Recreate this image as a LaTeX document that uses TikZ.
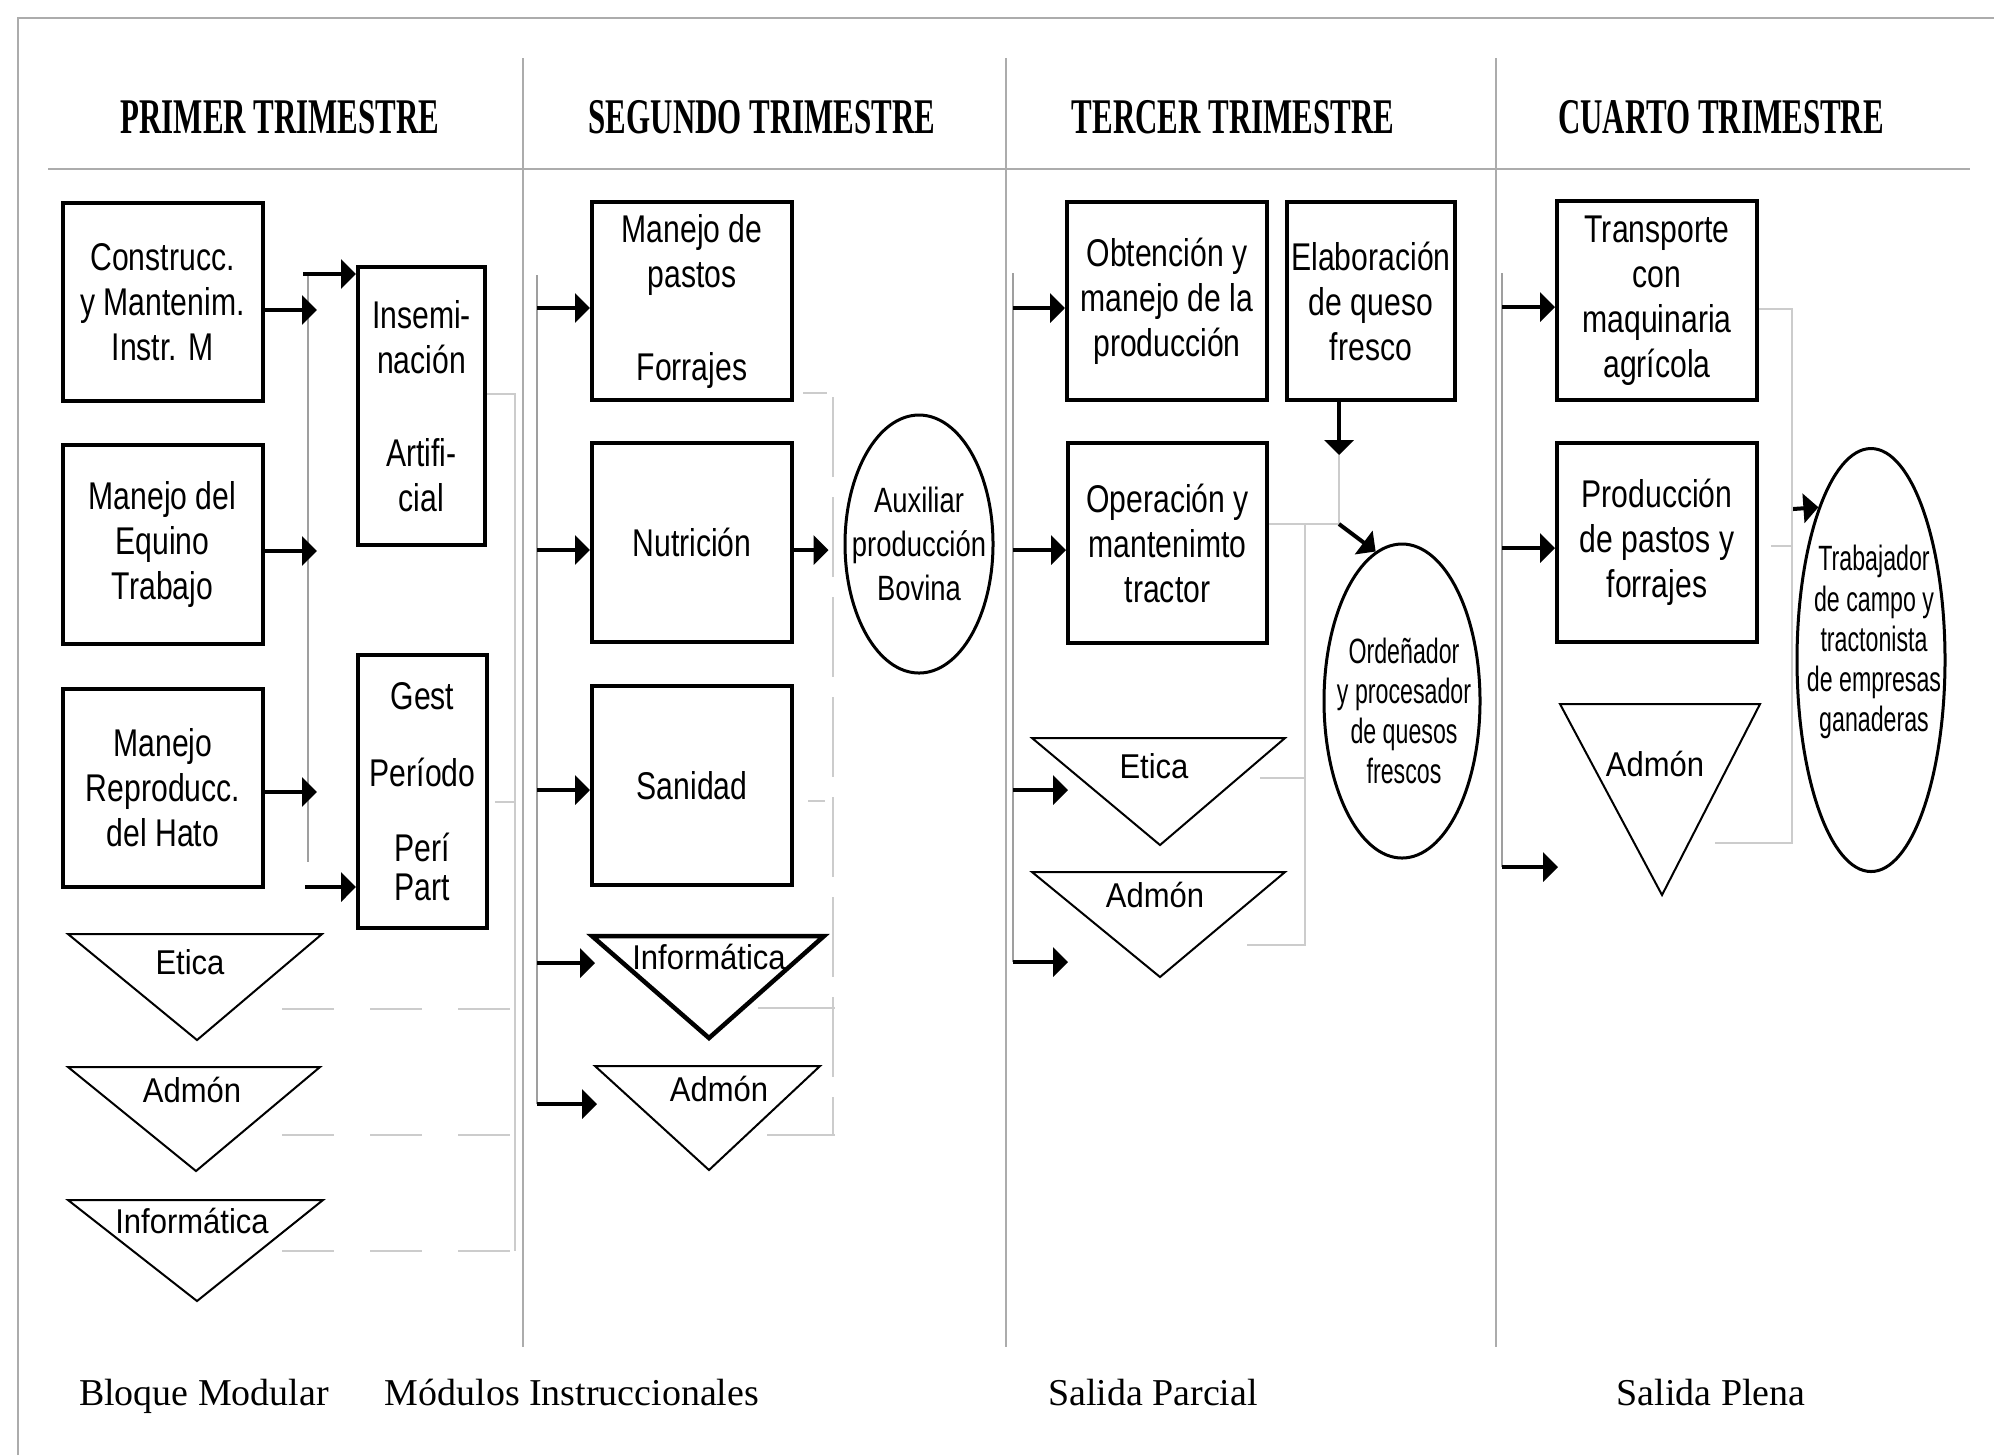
\documentclass[tikz,border=0pt]{standalone}
\usepackage{fontspec}
\setmainfont{Liberation Serif}
\newfontfamily\headfont[FakeStretch=0.62]{Liberation Serif}
\newfontfamily\boxfont[FakeStretch=0.78]{Liberation Sans}
\newfontfamily\trifont[FakeStretch=0.9]{Liberation Sans}
\newfontfamily\ovalfont[FakeStretch=0.66]{Liberation Sans}
\usetikzlibrary{arrows.meta,shapes.geometric}

\newlength{\du}
\setlength{\du}{0.1mm}

\begin{document}
\begin{tikzpicture}[x=1\du,y=-1\du,
  box/.style={draw,line width=0.4mm,inner sep=0pt,align=center,
    font=\boxfont\fontsize{11}{12.8}\selectfont},
  oval/.style={draw,ellipse,line width=0.3mm,inner sep=0pt},
  ovaltext/.style={align=center,inner sep=0pt,font=\ovalfont\fontsize{10}{11.4}\selectfont},
  trilabel/.style={anchor=base,inner sep=0pt,font=\trifont\fontsize{9.8}{11}\selectfont},
  tri/.style={line width=0.2mm,line join=miter},
  arr/.style={line width=0.4mm,-{Triangle[length=1.5mm,width=2.9mm]}},
  feed/.style={line width=0.15mm,gray!75},
  faint/.style={line width=0.15mm,gray!40},
  rule/.style={line width=0.2mm,gray!65},
  head/.style={anchor=base,inner sep=0pt,font=\headfont\bfseries\fontsize{14.2}{16}\selectfont},
  foot/.style={anchor=base,inner sep=0pt,font=\fontsize{10.8}{12}\selectfont}]
\useasboundingbox (0,0) rectangle (1994,1455);

% frame and columns
\draw[rule] (18,1455) -- (18,18) -- (1994,18);
\draw[rule] (48,169) -- (1970,169);
\foreach \x in {523,1006,1496}
  \draw[rule] (\x,58) -- (\x,1347);

\node[head] (h1) at (280,133) {PRIMER TRIMESTRE};
\node[head] (h2) at (762,133) {SEGUNDO TRIMESTRE};
\node[head] (h3) at (1233,133) {TERCER TRIMESTRE};
\node[head] (h4) at (1721,133) {CUARTO TRIMESTRE};

\node[foot] (p1) at (204,1405) {Bloque Modular};
\node[foot] (p2) at (572,1405) {Módulos Instruccionales};
\node[foot] (p3) at (1153,1405) {Salida Parcial};
\node[foot] (p4) at (1711,1405) {Salida Plena};

% first column
\node[box,minimum width=200\du,minimum height=198\du] (cons) at (162.5,302) {Construcc.\\y Mantenim.\\Instr. M};
\node[box,minimum width=200\du,minimum height=199\du] (equi) at (162.5,544.5) {Manejo del\\Equino\\Trabajo};
\node[box,minimum width=200\du,minimum height=198\du] (repr) at (163,788) {Manejo\\Reproducc.\\del Hato};
\node[box,minimum width=127\du,minimum height=278\du] (insem) at (421.5,406) {Insemi-\\nación\\[4.8mm]Artifi-\\cial};
\node[box,minimum width=129\du,minimum height=273\du] (gest) at (422.5,791.5) {Gest\\[3.2mm]Período\\[3mm]Perí\\[-0.6mm]Part};

\coordinate (f1top) at (308,274);
\coordinate (f1bot) at (308,862);
\coordinate (f1in) at (303,274);
\coordinate (f1out) at (305,887);
\coordinate (k1a) at (317,310);
\coordinate (k1b) at (317,551);
\coordinate (k1c) at (317,792);
\draw[feed] (f1top) -- (f1bot);
\draw[arr] (cons.east |- k1a) -- (k1a);
\draw[arr] (equi.east |- k1b) -- (k1b);
\draw[arr] (repr.east |- k1c) -- (k1c);
\draw[arr] (f1in) -- (f1in -| insem.west);
\draw[arr] (f1out) -- (f1out -| gest.west);

\draw[tri] (68,934) -- (322,934) -- (197,1040) -- cycle;
\draw[tri] (68,1067) -- (320,1067) -- (196,1171) -- cycle;
\draw[tri] (68,1200) -- (323,1200) -- (197,1301) -- cycle;
\node[trilabel] (eti1) at (190,974) {Etica};
\node[trilabel] (adm1) at (192,1102) {Admón};
\node[trilabel] (inf1) at (192,1233) {Informática};

\coordinate (g1) at (515,394);
\coordinate (g1b) at (515,1251);
\draw[faint] (insem.east |- g1) -- (g1) -- (g1b);
\draw[faint] (495,802) -- (515,802);
\foreach \y in {1009,1135,1251}
  \draw[faint,dash pattern=on 5.2mm off 3.6mm] (282,\y) -- (515,\y);

% second column
\node[box,minimum width=200\du,minimum height=198\du] (past) at (692,301) {Manejo de\\pastos\\[4.8mm]Forrajes};
\node[box,minimum width=200\du,minimum height=199\du] (nutr) at (692,542.5) {Nutrición};
\node[box,minimum width=200\du,minimum height=199\du] (sani) at (692,785.5) {Sanidad};
\node[oval,minimum width=148\du,minimum height=258\du] (aux) at (919,544) {};
\node[align=center,inner sep=0pt,font=\boxfont\fontsize{10}{12.6}\selectfont] (auxtx) at (aux.center) {Auxiliar\\producción\\Bovina};

\coordinate (c2top) at (537,275);
\coordinate (c2a) at (537,308);
\coordinate (c2b) at (537,550);
\coordinate (c2c) at (537,790);
\coordinate (c2d) at (537,963);
\coordinate (c2e) at (537,1104);
\coordinate (t2a) at (595,963);
\coordinate (t2b) at (597,1104);
\draw[feed] (c2top) -- (c2e);
\draw[arr] (c2a) -- (c2a -| past.west);
\draw[arr] (c2b) -- (c2b -| nutr.west);
\draw[arr] (c2c) -- (c2c -| sani.west);
\draw[arr] (c2d) -- (t2a);
\draw[arr] (c2e) -- (t2b);
\draw[arr,shorten >=1.5mm] (nutr.east |- c2b) -- (aux.west |- c2b);

\draw[tri,line width=0.45mm] (592,936) -- (824,936) -- (709,1038) -- cycle;
\draw[tri] (595,1066) -- (820,1066) -- (709,1170) -- cycle;
\node[trilabel] (inf2) at (709,969) {Informática};
\node[trilabel] (adm2) at (719,1101) {Admón};

\coordinate (g2) at (833,397);
\coordinate (g2b) at (833,1135);
\draw[faint] (803,393) -- (827,393);
\draw[faint,dash pattern=on 8mm off 2mm] (g2) -- (g2b);
\draw[faint] (808,801) -- (825,801);
\draw[faint] (758,1008) -- (835,1008);
\draw[faint] (767,1135) -- (835,1135);

% third column
\node[box,minimum width=200\du,minimum height=198\du] (obte) at (1167,301) {Obtención y\\manejo de la\\producción};
\node[box,minimum width=168\du,minimum height=198\du] (elab) at (1371,301) {Elaboración\\de queso\\fresco};
\node[box,minimum width=199\du,minimum height=200\du] (oper) at (1167.5,543) {Operación y\\mantenimto\\tractor};
\node[oval,minimum width=156\du,minimum height=314\du] (orde) at (1402,701) {};
\node[ovaltext] (ordetx) at (1404,711) {Ordeñador\\y procesador\\de quesos\\frescos};

\coordinate (c3top) at (1013,273);
\coordinate (c3a) at (1013,308);
\coordinate (c3b) at (1013,550);
\coordinate (c3c) at (1013,790);
\coordinate (c3d) at (1013,962);
\coordinate (t3a) at (1068,790);
\coordinate (t3b) at (1068,962);
\draw[feed] (c3top) -- (c3d);
\draw[arr] (c3a) -- (c3a -| obte.west);
\draw[arr] (c3b) -- (c3b -| oper.west);
\draw[arr] (c3c) -- (t3a);
\draw[arr] (c3d) -- (t3b);

\coordinate (e3) at (1339,455);
\coordinate (j3) at (1339,524);
\draw[arr] (e3 |- elab.south) -- (e3);
\draw[faint] (e3) -- (j3) -- (oper.east |- j3);
\draw[arr] (j3) -- (orde.100);

\draw[tri] (1032,738) -- (1285,738) -- (1160,845) -- cycle;
\draw[tri] (1032,872) -- (1285,872) -- (1160,977) -- cycle;
\node[trilabel] (eti3) at (1154,778) {Etica};
\node[trilabel] (adm3) at (1155,907) {Admón};

\draw[faint] (1305,524) -- (1305,945) -- (1247,945);
\draw[faint] (1260,778) -- (1305,778);

% fourth column
\node[box,minimum width=200\du,minimum height=199\du] (tran) at (1657,300.5) {Transporte\\con\\maquinaria\\agrícola};
\node[box,minimum width=200\du,minimum height=199\du] (prod) at (1657,542.5) {Producción\\de pastos y\\forrajes};
\node[oval,minimum width=148\du,minimum height=423\du] (trab) at (1871,660) {};
\node[ovaltext] (trabtx) at (1874,642) {Trabajador\\de campo y\\tractonista\\de empresas\\ganaderas};

\coordinate (c4top) at (1502,273);
\coordinate (c4a) at (1502,307);
\coordinate (c4b) at (1502,548);
\coordinate (c4c) at (1502,867);
\coordinate (t4a) at (1558,867);
\coordinate (t4s) at (1793,509);
\draw[feed] (c4top) -- (c4c);
\draw[arr] (c4a) -- (c4a -| tran.west);
\draw[arr] (c4b) -- (c4b -| prod.west);
\draw[arr] (c4c) -- (t4a);
\draw[arr] (t4s) -- (trab.109);

\draw[tri] (1560,704) -- (1760,704) -- (1662,895) -- cycle;
\node[trilabel] (adm4) at (1655,776) {Admón};

\coordinate (g4) at (1792,309);
\coordinate (g4b) at (1792,843);
\draw[faint] (tran.east |- g4) -- (g4) -- (g4b) -- (1715,843);
\draw[faint] (1771,546) -- (1792,546);
\end{tikzpicture}
\end{document}
